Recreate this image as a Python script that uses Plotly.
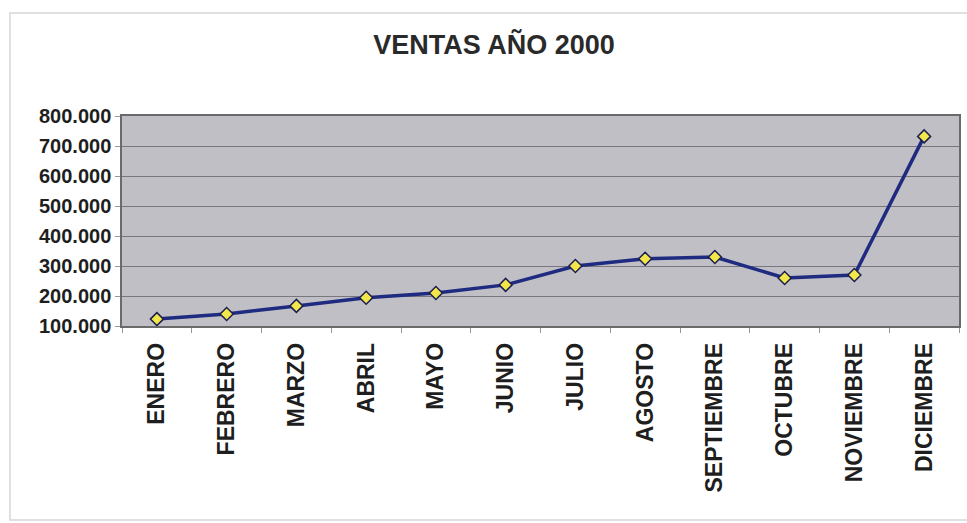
import plotly.graph_objects as go

# --- Data ---
meses = ["ENERO", "FEBRERO", "MARZO", "ABRIL", "MAYO", "JUNIO", "JULIO",
         "AGOSTO", "SEPTIEMBRE", "OCTUBRE", "NOVIEMBRE", "DICIEMBRE"]
ventas = [123000, 140000, 167000, 194000, 210000, 237000, 300000,
          324000, 330000, 260000, 270000, 732000]
y_ticks = [100000, 200000, 300000, 400000, 500000, 600000, 700000, 800000]

FONT = "Arial, Liberation Sans, sans-serif"
W, H = 967, 523
L, R, T, B = 122, 8, 116, 197

fig = go.Figure()
fig.add_trace(go.Scatter(
    x=meses, y=ventas,
    mode="lines+markers",
    line=dict(color="#1F2B80", width=3.5),
    marker=dict(symbol="diamond", size=10, color="#F2E64A",
                line=dict(color="#1A1F4F", width=1.5)),
    showlegend=False,
))

# light outer frame around the whole chart
pw, ph = W - L - R, H - T - B
fig.add_shape(type="rect", xref="paper", yref="paper",
              x0=(10 - L) / pw, x1=(975 - L) / pw,
              y0=(H - B - 520) / ph, y1=(H - B - 13) / ph,
              line=dict(color="#D6D6D6", width=1.5), layer="below")

fig.update_layout(
    width=W, height=H,
    margin=dict(l=L, r=R, t=T, b=B, autoexpand=False),
    paper_bgcolor="white",
    plot_bgcolor="#C0BFC5",
    separators=",.",
    title=dict(text="<b>VENTAS AÑO 2000</b>", x=(494 - L) / pw, xref="paper",
               xanchor="center", y=1 - 45 / H, yanchor="middle",
               font=dict(family=FONT, size=27, color="#2A2A2A")),
    xaxis=dict(
        type="category", range=[-0.5, len(meses) - 0.5],
        tickson="boundaries", ticks="outside", ticklen=5,
        tickcolor="#999", tickangle=-90, ticklabelstandoff=6,
        tickfont=dict(family=FONT, size=23, color="#1E1E1E", weight="bold"),
        showgrid=False, showline=True, linecolor="#6A6A6A", linewidth=1.5,
        mirror=True, fixedrange=True, automargin=False,
    ),
    yaxis=dict(
        range=[100000, 800000], tickvals=y_ticks, tickformat=",.0f",
        ticks="outside", ticklen=5, tickcolor="#999",
        tickfont=dict(family=FONT, size=20, color="#1E1E1E", weight="bold"),
        showgrid=True, gridcolor="#77777D", gridwidth=1,
        showline=True, linecolor="#6A6A6A", linewidth=1.5, mirror=True,
        zeroline=False, automargin=False,
    ),
)

fig.write_html("out.html", config={"displayModeBar": False})

# drop the browser's default body margin so the figure sits at (0, 0)
with open("out.html", "r", encoding="utf-8") as f:
    html = f.read()
html = html.replace("<body>", '<body style="margin:0">', 1)
with open("out.html", "w", encoding="utf-8") as f:
    f.write(html)
